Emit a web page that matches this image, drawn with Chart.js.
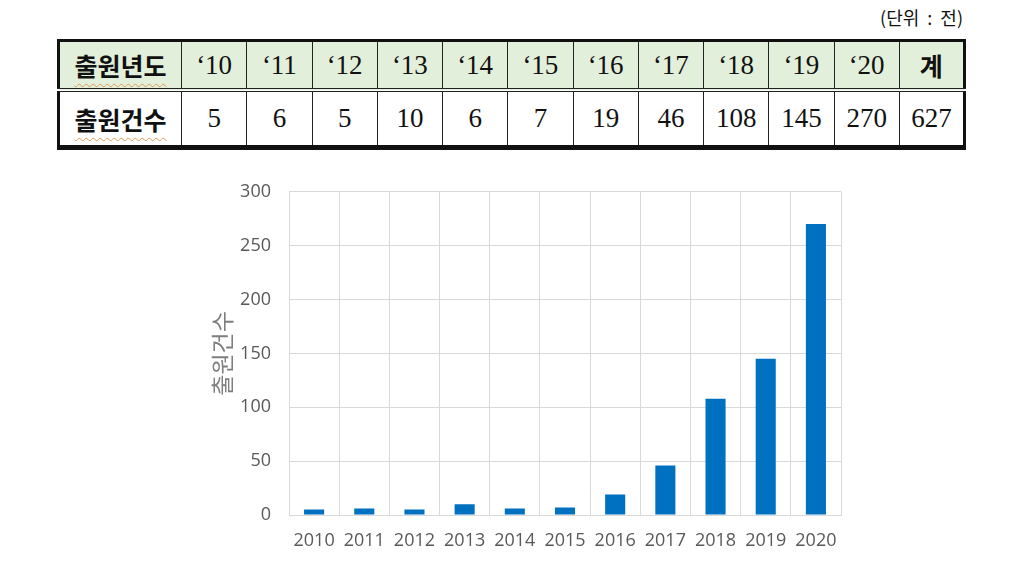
<!DOCTYPE html>
<html>
<head>
<meta charset="utf-8">
<script src="https://cdn.jsdelivr.net/npm/chart.js@4"></script>
<style>
  body { margin: 0; width: 1024px; height: 561px; background: #fff; position: relative; overflow: hidden; }
  #unit { position: absolute; right: 61px; top: 4px; font: 18px "Noto Sans CJK KR", sans-serif; color: #111; word-spacing: 4px; }
  #tbl { position: absolute; left: 57px; top: 39px; width: 909px; border-collapse: collapse; table-layout: fixed;
         border-top: 3px solid #111; border-left: 3px solid #111; border-right: 3px solid #111; border-bottom: 5px solid #111; }
  #tbl td { border-left: 1px solid #222; text-align: center; padding: 0; color: #111;
            font: 27px "Liberation Serif", serif; }
  #tbl tr.head td { background: #e2efda; height: 46px; border-bottom: 4px double #222; }
  #tbl tr.body td { height: 53px; }
  #tbl td.lbl { width: 121px; font: bold 25px "Noto Sans CJK KR", sans-serif;
                text-decoration: underline wavy #e39a55; text-decoration-thickness: 1px; text-underline-offset: 7px; }
  #tbl td.kr { font: bold 25px "Noto Sans CJK KR", sans-serif; }
  #wrap { position: absolute; left: 200px; top: 163px; width: 660px; height: 398px; }
</style>
</head>
<body>
<div id="unit">(단위 : 전)</div>
<table id="tbl">
  <tr class="head"><td class="lbl">출원년도</td></tr>
  <tr class="body"><td class="lbl">출원건수</td></tr>
</table>
<div id="wrap"><canvas id="chart"></canvas></div>
<script>
const years = ['2010', '2011', '2012', '2013', '2014', '2015', '2016', '2017', '2018', '2019', '2020'];
const shortYears = ['‘10', '‘11', '‘12', '‘13', '‘14', '‘15', '‘16', '‘17', '‘18', '‘19', '‘20'];
const counts = [5, 6, 5, 10, 6, 7, 19, 46, 108, 145, 270];
const totalLabel = '계';
const total = 627;
const yTicks = [0, 50, 100, 150, 200, 250, 300];

// table rows
const headRow = document.querySelector('#tbl tr.head');
const bodyRow = document.querySelector('#tbl tr.body');
shortYears.forEach((y, i) => {
  const h = document.createElement('td');
  h.textContent = y;
  headRow.appendChild(h);
  const b = document.createElement('td');
  b.textContent = counts[i];
  bodyRow.appendChild(b);
});
const th = document.createElement('td');
th.className = 'kr';
th.textContent = totalLabel;
headRow.appendChild(th);
const tb = document.createElement('td');
tb.textContent = total;
bodyRow.appendChild(tb);

const tickFont = { family: '"Open Sans", "Noto Sans CJK KR", sans-serif', size: 18 };
const ctx = document.getElementById('chart').getContext('2d');
new Chart(ctx, {
  type: 'bar',
  data: {
    labels: years,
    datasets: [{ data: counts, backgroundColor: '#0070c0', barPercentage: 0.4, categoryPercentage: 1 }],
  },
  options: {
    responsive: true,
    maintainAspectRatio: false,
    animation: false,
    layout: { padding: { top: 10, right: 19, left: 0, bottom: 0 } },
    plugins: { legend: { display: false }, tooltip: { enabled: false } },
    scales: {
      x: {
        grid: { color: '#d9d9d9', drawTicks: false, offset: true },
        border: { color: '#d9d9d9' },
        ticks: { color: '#595959', font: tickFont, padding: 15, maxRotation: 0 },
        afterFit: s => { s.height = 46; },
      },
      y: {
        min: 0,
        max: 300,
        afterBuildTicks: s => { s.ticks = yTicks.map(v => ({ value: v })); },
        grid: { color: '#d9d9d9', drawTicks: false },
        border: { display: false },
        ticks: { color: '#595959', font: tickFont, padding: 18 },
        title: { display: true, text: '출원건수', color: '#7f7f7f',
                 font: { family: '"Noto Sans CJK KR", sans-serif', size: 23 }, padding: { top: 8, bottom: 0 } },
        afterFit: s => { s.width = 89; },
      },
    },
  },
});
</script>
</body>
</html>
